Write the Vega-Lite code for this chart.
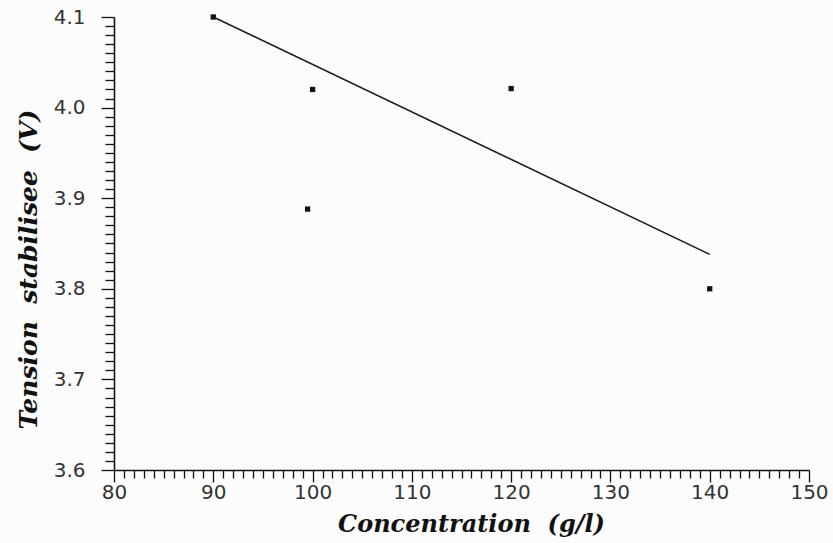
{
  "$schema": "https://vega.github.io/schema/vega-lite/v6.json",
  "autosize": "none",
  "width": 695,
  "height": 453,
  "padding": {"left": 114, "top": 17, "right": 24, "bottom": 73},
  "background": "#fcfcfc",
  "config": {
    "view": {"stroke": null},
    "axis": {"grid": false, "labelFlush": false, "labelOverlap": false, "domainColor": "#111", "tickColor": "#111", "domainWidth": 1.6, "tickWidth": 1.3, "labelColor": "#333", "labelFont": "DejaVu Sans", "labelFontSize": 20, "titleFont": "DejaVu Serif", "titleFontStyle": "italic", "titleFontWeight": "bold", "titleFontSize": 24, "titleColor": "#111"}
  },
  "datasets": {
    "points": [
      {"concentration": 90, "tension": 4.1},
      {"concentration": 100, "tension": 4.02},
      {"concentration": 99.5, "tension": 3.888},
      {"concentration": 120, "tension": 4.021},
      {"concentration": 140, "tension": 3.8}
    ],
    "fit": [
      {"concentration": 90, "tension": 4.1},
      {"concentration": 140, "tension": 3.838}
    ]
  },
  "resolve": {"axis": {"x": "independent", "y": "independent"}},
  "layer": [
    {
      "data": {"name": "fit"},
      "mark": {"type": "line", "color": "#1a1a1a", "strokeWidth": 1.6},
      "encoding": {
        "x": {"field": "concentration", "type": "quantitative", "scale": {"domain": [80, 150], "nice": false, "zero": false},
          "axis": {"orient": "bottom", "values": [80, 90, 100, 110, 120, 130, 140, 150], "tickSize": 12, "labelPadding": 0, "title": "Concentration\u00a0\u00a0(g/l)", "titleX": 357, "titleY": 61, "titleBaseline": "alphabetic"}},
        "y": {"field": "tension", "type": "quantitative", "scale": {"domain": [3.6, 4.1], "nice": false, "zero": false},
          "axis": {"orient": "left", "values": [3.6, 3.7, 3.8, 3.9, 4.0, 4.1], "format": ".1f", "tickSize": 13, "labelPadding": 16, "title": "Tension\u00a0\u00a0stabilisee\u00a0\u00a0(V)", "titleX": -86, "titleY": 252, "titleFontSize": 25, "titleAngle": -90, "titleBaseline": "middle"}}
      }
    },
    {
      "data": {"name": "points"},
      "mark": {"type": "square", "filled": true, "color": "#111", "size": 28, "opacity": 1},
      "encoding": {
        "x": {"field": "concentration", "type": "quantitative",
          "axis": {"orient": "bottom", "values": [81,82,83,84,85,86,87,88,89,91,92,93,94,95,96,97,98,99,101,102,103,104,105,106,107,108,109,111,112,113,114,115,116,117,118,119,121,122,123,124,125,126,127,128,129,131,132,133,134,135,136,137,138,139,141,142,143,144,145,146,147,148,149], "tickSize": 8, "labels": false, "domain": false, "title": null}},
        "y": {"field": "tension", "type": "quantitative",
          "axis": {"orient": "left", "values": [3.61,3.62,3.63,3.64,3.65,3.66,3.67,3.68,3.69,3.71,3.72,3.73,3.74,3.75,3.76,3.77,3.78,3.79,3.81,3.82,3.83,3.84,3.85,3.86,3.87,3.88,3.89,3.91,3.92,3.93,3.94,3.95,3.96,3.97,3.98,3.99,4.01,4.02,4.03,4.04,4.05,4.06,4.07,4.08,4.09], "tickSize": 9, "labels": false, "domain": false, "title": null}}
      }
    }
  ]
}
